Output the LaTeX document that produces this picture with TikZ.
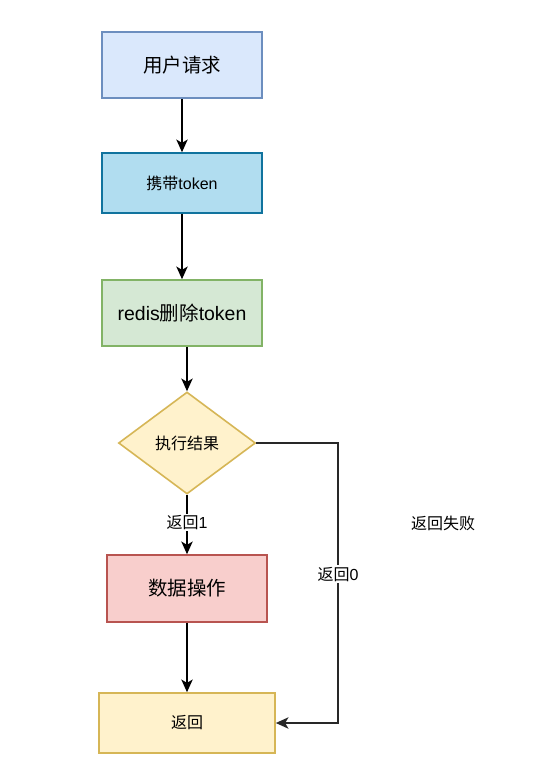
\documentclass[tikz,border=0pt]{standalone}
\usepackage{fontspec}
\setmainfont{Liberation Sans}
\newfontfamily\cjk{Noto Sans CJK SC}
\usetikzlibrary{shapes.geometric,arrows.meta}
\definecolor{bluefill}{HTML}{DAE8FC}\definecolor{bluedraw}{HTML}{6C8EBF}
\definecolor{cyanfill}{HTML}{B1DDF0}\definecolor{cyandraw}{HTML}{10739E}
\definecolor{greenfill}{HTML}{D5E8D4}\definecolor{greendraw}{HTML}{82B366}
\definecolor{yellowfill}{HTML}{FFF2CC}\definecolor{yellowdraw}{HTML}{D6B656}
\definecolor{redfill}{HTML}{F8CECC}\definecolor{reddraw}{HTML}{B85450}
\begin{document}
\begin{tikzpicture}[x=0.75pt,y=-0.75pt,
  box/.style={draw,rectangle,line width=1.2pt,inner sep=0pt,align=center},
  bigtxt/.style={font=\fontsize{14.6pt}{17pt}\selectfont},
  smalltxt/.style={font=\fontsize{12pt}{14pt}\selectfont},
  arr/.style={draw=black,line width=1.3pt,-{Stealth[length=9.5pt,width=8.5pt,inset=2.5pt]}},
  lab/.style={fill=white,inner sep=1pt,font=\fontsize{12pt}{14pt}\selectfont}]
\useasboundingbox (0,0) rectangle (560,771);
\fill[white] (0,0) rectangle (560,771);
\node[box,bigtxt,fill=bluefill,draw=bluedraw,minimum width=120pt,minimum height=49.5pt] (b1) at (182,65) {{\cjk 用户请求}};
\node[box,smalltxt,fill=cyanfill,draw=cyandraw,minimum width=120pt,minimum height=45pt] (b2) at (182,183) {{\cjk 携带}token};
\node[box,bigtxt,fill=greenfill,draw=greendraw,minimum width=120pt,minimum height=49.5pt] (b3) at (182,313) {redis{\cjk 删除}token};
\node[draw,diamond,line width=1.2pt,inner sep=0pt,smalltxt,fill=yellowfill,draw=yellowdraw,minimum width=102.75pt,minimum height=76.5pt] (dia) at (187,443) {{\cjk 执行结果}};
\node[box,bigtxt,fill=redfill,draw=reddraw,minimum width=120pt,minimum height=50.25pt] (b4) at (187,588.5) {{\cjk 数据操作}};
\node[box,smalltxt,fill=yellowfill,draw=yellowdraw,minimum width=132pt,minimum height=45pt] (b5) at (187,723) {{\cjk 返回}};
\coordinate (r) at (338,443);
\node[smalltxt] (fail) at (443,523) {{\cjk 返回失败}};
\draw[arr] (b1) -- (b2);
\draw[arr] (b2) -- (b3);
\draw[arr] (b3.south -| dia.north) -- (dia.north);
\draw[arr] (dia.south) -- node[lab,pos=0.46] (l1) {{\cjk 返回}1} (b4.north);
\draw[arr] (b4) -- (b5);
\draw[arr,draw={rgb,255:red,40;green,40;blue,40}] (dia.east) -- (r) -- node[lab,pos=0.468,text=black] (l0) {{\cjk 返回}0} (r |- b5.east) -- (b5.east);
\end{tikzpicture}
\end{document}
